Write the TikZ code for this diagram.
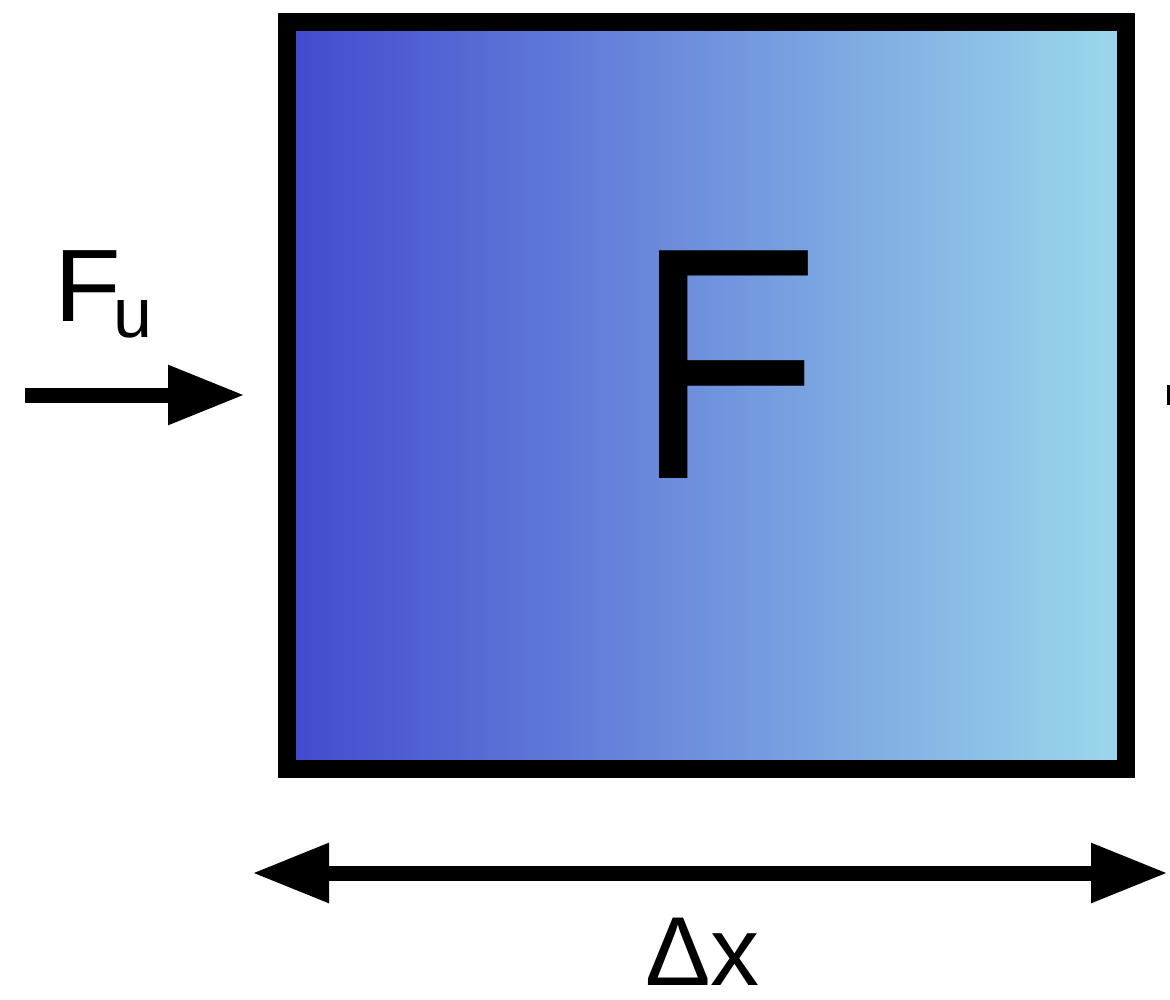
\documentclass[tikz,border=0pt]{standalone}
\usepackage{fontspec}
\setmainfont{Liberation Sans}
\usetikzlibrary{arrows.meta}
\definecolor{gleft}{RGB}{66,74,206}
\definecolor{gright}{RGB}{156,217,236}
\tikzset{
  bigarrow/.style={line width=15pt, -{Triangle[length=77pt,width=56pt]}},
  dblarrow/.style={line width=15pt, {Triangle[length=77pt,width=56pt]}-{Triangle[length=77pt,width=56pt]}},
  cell/.style={draw=black, line width=18pt, left color=gleft, right color=gright,
    minimum width=839pt, minimum height=747pt, inner sep=0pt, outer sep=0pt},
  lbl/.style={inner sep=0pt, outer sep=0pt}
}
\begin{document}
\begin{tikzpicture}[x=1pt,y=-1pt]
\useasboundingbox (0,0) rectangle (1170,1000);
\node[cell] (box) at (706.5,395.5) {};
\node[lbl, anchor=base] (F) at (727,478) {\scalebox{0.92}[1]{\fontsize{331}{331}\selectfont F}};
\node[lbl, anchor=base west] (Fu) at (54,322) {\scalebox{1.06}[1]{\fontsize{103}{103}\selectfont F}\hspace{-7pt}\raisebox{-16pt}{\fontsize{70}{70}\selectfont u}};
\coordinate (fuS) at (25,395);
\coordinate (fuE) at (245,395);
\draw[bigarrow] (fuS) -- (fuE);
\coordinate (dxL) at (252,873);
\coordinate (dxR) at (1168,873);
\draw[dblarrow] (dxL) -- (dxR);
\node[lbl, anchor=base west, text depth=0pt] (dx) at (645,985) {\fontsize{98}{98}\selectfont Δx};
\draw[line width=3pt] (1168.5,385) -- (1168.5,405);
\end{tikzpicture}
\end{document}
